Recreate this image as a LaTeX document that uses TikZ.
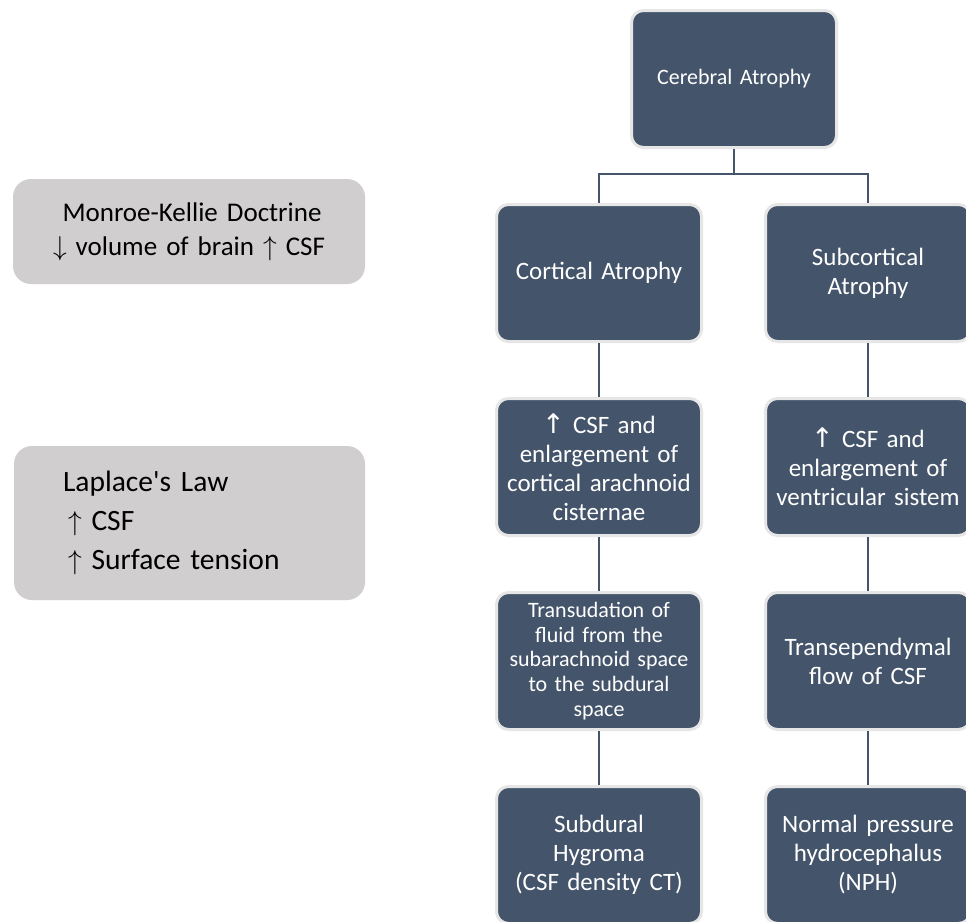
\documentclass[tikz,border=0pt]{standalone}
\usepackage{fontspec}
\setmainfont{Carlito}
\newfontfamily\arrowfont{DejaVu Sans}
\usepackage{tikz}
\usetikzlibrary{positioning}
\definecolor{slate}{HTML}{44546A}
\definecolor{rim}{HTML}{E7E6E6}
\definecolor{pale}{HTML}{D0CECE}
\newcommand{\uparw}{{\arrowfont\fontsize{27}{27}\selectfont ↑}}
\newcommand{\thinup}{\scalebox{1.1}{$\uparrow$}}
\newcommand{\thindown}{\scalebox{1.1}{$\downarrow$}}
\newcommand{\tight}{\spaceskip=0.19em\relax}

\begin{document}
\begin{tikzpicture}[x=1pt,y=-1pt,node distance=54pt,
                    dark/.style={rectangle,rounded corners=12pt,fill=slate,draw=rim,line width=3pt,
                                 minimum width=205pt,minimum height=137pt,text width=198pt,
                                 align=center,inner sep=2pt,text=white,
                                 font=\fontsize{25}{29}\selectfont\tight},
                    grey/.style={rectangle,rounded corners=18pt,fill=pale,text=black,inner sep=0pt},
                    link/.style={draw=slate,line width=2.2pt}]
%  \tikzstyle{every node}=[draw=red]
  \clip (0,0) rectangle (966,921);
  \fill[white] (0,0) rectangle (966,921);

  \node[dark,font=\fontsize{22}{27}\selectfont\tight] (cer) at (734,79) {Cerebral Atrophy};
  \node[dark]  (cort) at (599,273)          {Cortical Atrophy};
  \node[dark]  (sub)  at (868,273)          {Subcortical\\Atrophy};
  \node[dark]  (cist) [below=of cort]       {\uparw\ CSF and\\enlargement of\\cortical arachnoid\\cisternae};
  \node[dark]  (vent) [below=of sub]        {\uparw\ CSF and\\enlargement of\\ventricular sistem};
  \node[dark,font=\fontsize{22}{24.7}\selectfont\tight]
               (trans) [below=of cist]      {Transudation of\\fluid from the\\subarachnoid space\\to the subdural\\space};
  \node[dark]  (flow) [below=of vent]       {Transependymal\\flow of CSF};
  \node[dark]  (hyg)  [below=of trans]      {Subdural\\Hygroma\\(CSF density CT)};
  \node[dark]  (nph)  [below=of flow]       {Normal pressure\\hydrocephalus\\(NPH)};

  \node[grey,minimum width=352pt,minimum height=105pt,text width=340pt,align=center,
        font=\fontsize{27}{34}\selectfont\tight]
               (monro) at (189,231.5)       {\hspace{6pt}Monroe-Kellie Doctrine\\\thindown\ volume of brain \thinup\ CSF};
  \node[grey,minimum width=351pt,minimum height=154pt,text width=253pt,align=left,
        font=\fontsize{29.5}{39}\selectfont\tight]
               (lapl) at (189.5,523)        {Laplace\textquotesingle s Law\\\hspace{5pt}\thinup\ CSF\\\hspace{5pt}\thinup\ Surface tension};

  \coordinate (bus) at (734,174);
  \draw[link] (cer.south) -- (bus);
  \draw[link] (cort.north) |- (bus) -| (sub.north);

  \path[link] (cort) edge (cist)
              (cist) edge (trans)
              (trans) edge (hyg)
              (sub)  edge (vent)
              (vent) edge (flow)
              (flow) edge (nph);

\end{tikzpicture}
\end{document}
